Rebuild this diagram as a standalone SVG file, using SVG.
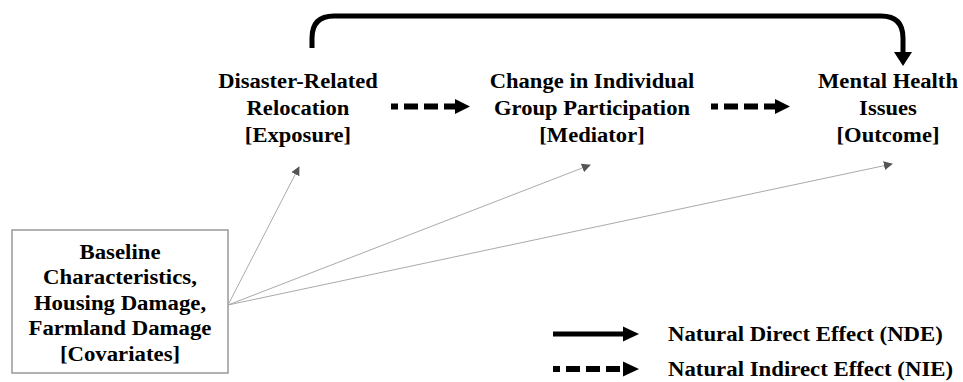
<svg xmlns="http://www.w3.org/2000/svg" width="963" height="382" viewBox="0 0 963 382">
<defs>
<style>
text{font-family:"Liberation Serif","Times New Roman","DejaVu Serif",serif;font-weight:bold;font-size:20px;fill:#000;}
.c{text-anchor:middle;}
.cov{stroke:#aaa;stroke-width:1;fill:none;}
.dash{stroke:#000;stroke-width:6;stroke-dasharray:14 6;stroke-dashoffset:7;fill:none;}
.solid{stroke:#000;stroke-width:5;fill:none;}
</style>
<marker id="g" viewBox="0 0 10 10" refX="9" refY="5" markerWidth="9" markerHeight="9" markerUnits="userSpaceOnUse" orient="auto">
<path d="M0,0 L10,5 L0,10 z" fill="#555"/>
</marker>
</defs>
<rect width="963" height="382" fill="#fff"/>

<g id="exposure" transform="translate(298 0) scale(1.13 1)">
<text class="c" x="0" y="88">Disaster-Related</text>
<text class="c" x="0" y="115">Relocation</text>
<text class="c" x="0" y="142">[Exposure]</text>
</g>
<g id="mediator" transform="translate(592 0) scale(1.13 1)">
<text class="c" x="0" y="88">Change in Individual</text>
<text class="c" x="0" y="115">Group Participation</text>
<text class="c" x="0" y="142">[Mediator]</text>
</g>
<g id="outcome" transform="translate(888 0) scale(1.13 1)">
<text class="c" x="0" y="88">Mental Health</text>
<text class="c" x="0" y="115">Issues</text>
<text class="c" x="0" y="142">[Outcome]</text>
</g>
<g id="covariates">
<rect x="12" y="230" width="216" height="143" fill="#fff" stroke="#999" stroke-width="1.5"/>
<g transform="translate(120 0) scale(1.14 1)">
<text class="c" x="0" y="259">Baseline</text>
<text class="c" x="0" y="284.5">Characteristics,</text>
<text class="c" x="0" y="310">Housing Damage,</text>
<text class="c" x="0" y="335.5">Farmland Damage</text>
<text class="c" x="0" y="361">[Covariates]</text>
</g>
</g>

<g id="connectors">
<path class="solid" d="M312,48 V38 Q312,16 334,16 H881 Q903,16 903,38 V53"/>
<polygon points="894,52 912,52 903,66" fill="#000"/>
<line class="dash" x1="391" y1="106.5" x2="457" y2="106.5"/>
<polygon points="455,99 470,106.5 455,114" fill="#000"/>
<line class="dash" x1="711" y1="106.5" x2="777" y2="106.5"/>
<polygon points="775,99 790,106.5 775,114" fill="#000"/>
<line class="cov" x1="228" y1="305" x2="299" y2="167" marker-end="url(#g)"/>
<line class="cov" x1="228" y1="305" x2="590" y2="165" marker-end="url(#g)"/>
<line class="cov" x1="228" y1="305" x2="892" y2="164" marker-end="url(#g)"/>
</g>

<g id="legend">
<line class="solid" x1="553" y1="334" x2="626" y2="334"/>
<polygon points="623,326.5 639,334 623,341.5" fill="#000"/>
<line class="dash" x1="553" y1="369" x2="626" y2="369"/>
<polygon points="623,361.5 639,369 623,376.5" fill="#000"/>
<g transform="translate(668 0) scale(1.14 1)">
<text x="0" y="341">Natural Direct Effect (NDE)</text>
<text x="0" y="376">Natural Indirect Effect (NIE)</text>
</g>
</g>
</svg>
